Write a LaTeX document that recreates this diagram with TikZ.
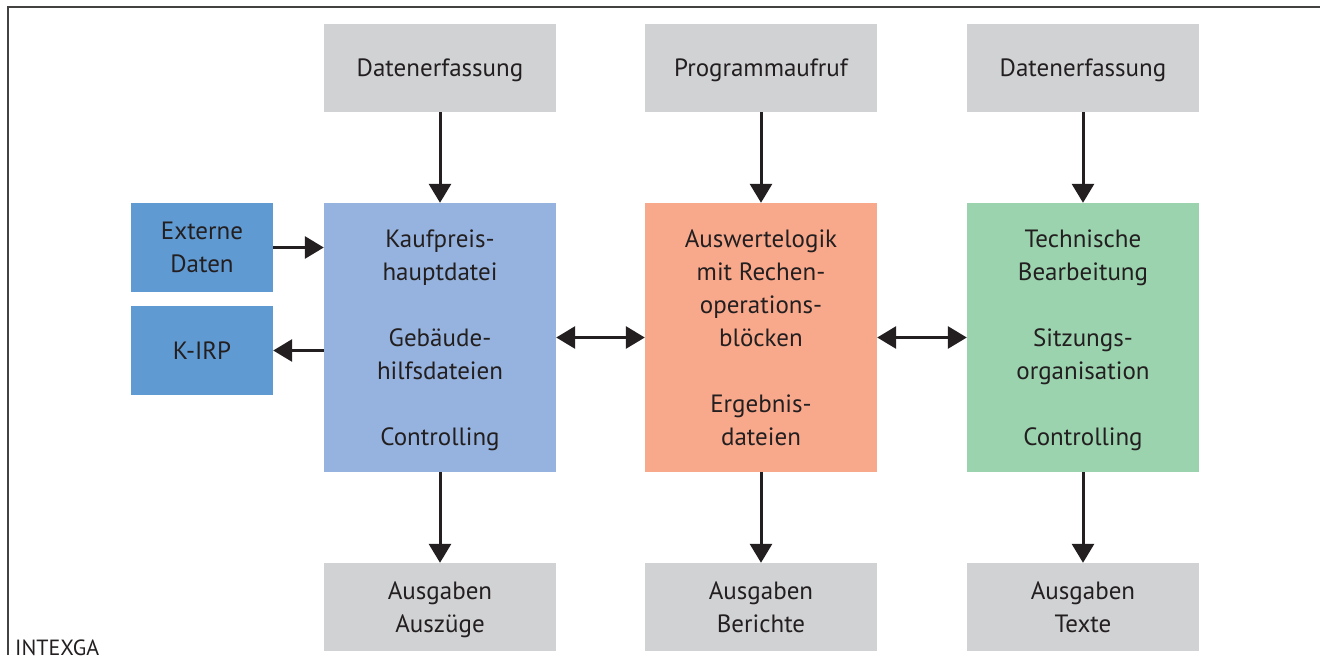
\documentclass[tikz,border=0pt]{standalone}
\usepackage{fontspec}
\setmainfont{PT Sans}
\definecolor{boxGray}{RGB}{209, 210, 212}
\definecolor{fileBlue}{RGB}{149, 179, 222}
\definecolor{extBlue}{RGB}{96, 154, 210}
\definecolor{logicSalmon}{RGB}{248, 169, 140}
\definecolor{techGreen}{RGB}{154, 211, 174}
\definecolor{inkDark}{RGB}{35, 31, 32}
\usetikzlibrary{positioning,calc,arrows.meta}

\begin{document}
\begin{tikzpicture}[x=1pt,y=-1pt,
                box/.style={minimum width=232pt,inner sep=0pt,align=center,text=inkDark,
                           font=\fontsize{25}{33}\selectfont,text depth=-1.5pt},
                io/.style={box,fill=boxGray,minimum height=88pt},
                core/.style={box,minimum height=269pt},
                ext/.style={box,fill=extBlue,minimum width=142pt,minimum height=89pt},
                link/.style={line width=3pt,draw=inkDark,-{Triangle[length=19pt,width=22pt]}},
                both/.style={link,{Triangle[length=19pt,width=22pt]}-{Triangle[length=19pt,width=22pt]}}
            ]
                \useasboundingbox (0,0) rectangle (1320,665);
                \draw[line width=2pt,draw=inkDark!85] (1320,7) -- (8,7) -- (8,655);
                \node[anchor=base west,text=inkDark,font=\fontsize{22}{26}\selectfont,inner sep=0pt] (source) at (15,655) {INTEXGA};
                
                % input row
                \node[io] (inA) at (440,68) {Datenerfassung};
                \node[io] (inB) at (761,68) {Programmaufruf};
                \node[io] (inC) at (1083,68) {Datenerfassung};
                
                % main blocks
                \node[core,fill=fileBlue] (files) at (440,337.5) {Kaufpreis-\\hauptdatei\\[33pt]Gebäude-\\hilfsdateien\\[33pt]Controlling};
                \node[core,fill=logicSalmon] (logic) at (761,337.5) {Auswertelogik\\mit Rechen-\\operations-\\blöcken\\[33pt]Ergebnis-\\dateien};
                \node[core,fill=techGreen] (tech) at (1083,337.5) {Technische\\Bearbeitung\\[33pt]Sitzungs-\\organisation\\[33pt]Controlling};
                
                % output row
                \node[io] (outA) at (440,607) {Ausgaben\\Auszüge};
                \node[io] (outB) at (761,607) {Ausgaben\\Berichte};
                \node[io] (outC) at (1083,607) {Ausgaben\\Texte};
                
                % side boxes
                \node[ext] (extern) at (202,247.5) {Externe\\Daten};
                \node[ext] (kirp) at (202,350.5) {K-IRP};
                
                \draw[link] (inA) -- (files);
                \draw[link] (inB) -- (logic);
                \draw[link] (inC) -- (tech);
                \draw[link] (files) -- (outA);
                \draw[link] (logic) -- (outB);
                \draw[link] (tech) -- (outC);
                \draw[link] (extern.east) -- (extern.east -| files.west);
                \draw[link] (kirp.east -| files.west) -- (kirp.east);
                \draw[both] (files) -- (logic);
                \draw[both] (logic) -- (tech);
            \end{tikzpicture}
\end{document}
